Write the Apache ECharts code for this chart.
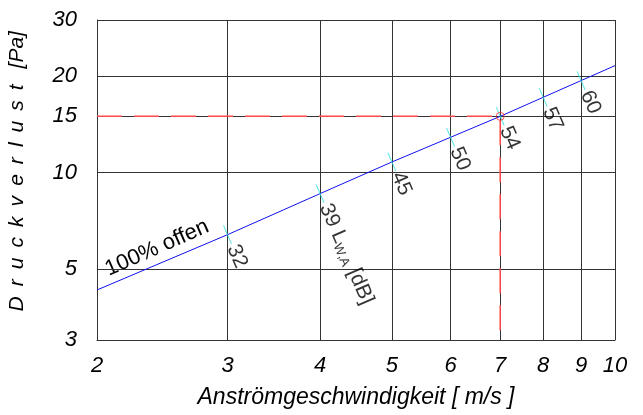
<!DOCTYPE html>
<html>
<head>
<meta charset="utf-8">
<script src="https://cdn.jsdelivr.net/npm/echarts@6/dist/echarts.min.js"></script>
<style>
  html, body { margin: 0; padding: 0; background: #fff; }
  #chart { width: 643px; height: 415px; }
</style>
</head>
<body>
<div id="chart"></div>
<script>
// air speed [m/s] and pressure loss [Pa], 100% open
var speeds = [2, 3, 4, 5, 6, 7, 8, 9, 10];
var pressures = [4.3, 6.4, 8.6, 10.8, 12.9, 15, 17.2, 19.4, 21.6];
// sound power level marks on the curve
var noiseSpeeds = [3, 4, 5, 6, 7, 8, 9];
var noisePressures = [6.4, 8.6, 10.8, 12.9, 15, 17.2, 19.4];
var noiseLevels = [32, 39, 45, 50, 54, 57, 60];
// axes
var xTicks = [2, 3, 4, 5, 6, 7, 8, 9, 10];
var yTicks = [3, 5, 10, 15, 20, 30];
// operating point
var refSpeed = 7, refPressure = 15;

var font = 'Liberation Sans, Arial, sans-serif';
var chart = echarts.init(document.getElementById('chart'));

var lineData = speeds.map(function (v, i) { return [v, pressures[i]]; });
var noiseData = noiseSpeeds.map(function (v, i) { return [v, noisePressures[i], noiseLevels[i]]; });

chart.setOption({
  animation: false,
  grid: { left: 97, top: 20, right: 28, bottom: 75, outerBoundsMode: 'none' },
  xAxis: {
    type: 'log',
    logBase: 10,
    min: xTicks[0],
    max: xTicks[xTicks.length - 1],
    name: 'Anströmgeschwindigkeit [ m/s ]',
    nameLocation: 'middle',
    nameGap: 46,
    nameTextStyle: { fontFamily: font, fontStyle: 'italic', fontSize: 23, color: '#000' },
    axisLine: { show: true, lineStyle: { color: '#333', width: 1 } },
    axisTick: { show: false, customValues: xTicks },
    axisLabel: { customValues: xTicks, margin: 15, fontFamily: font, fontStyle: 'italic', fontSize: 22, color: '#000' },
    splitLine: { show: true, lineStyle: { color: '#333', width: 1 } }
  },
  yAxis: {
    type: 'log',
    logBase: 10,
    min: yTicks[0],
    max: yTicks[yTicks.length - 1],
    name: '   D \u2009r \u2009u \u2009c \u2009k \u2009v \u2009e \u2009r \u2009l \u2009u \u2009s \u2009t \u2009 [Pa]',
    nameLocation: 'middle',
    nameGap: 69,
    nameRotate: 90,
    nameTextStyle: { fontFamily: font, fontStyle: 'italic', fontSize: 21, color: '#000' },
    axisLine: { show: true, lineStyle: { color: '#333', width: 1 } },
    axisTick: { show: false, customValues: yTicks },
    axisLabel: { customValues: yTicks, margin: 20, fontFamily: font, fontStyle: 'italic', fontSize: 22, color: '#000' },
    splitLine: { show: true, lineStyle: { color: '#333', width: 1 } }
  },
  series: [
    {
      name: 'reference',
      type: 'line',
      data: [[xTicks[0], refPressure], [refSpeed, refPressure], [refSpeed, yTicks[0]]],
      symbol: 'none',
      z: 3,
      lineStyle: { color: '#ff4a4a', width: 1.5, type: [25, 12] }
    },
    {
      name: '100% offen',
      type: 'line',
      data: lineData,
      symbol: 'none',
      z: 4,
      lineStyle: { color: '#1010f0', width: 1 }
    },
    {
      name: 'LwA',
      type: 'scatter',
      data: noiseData,
      symbol: 'rect',
      symbolSize: [1, 20],
      symbolRotate: 23.5,
      z: 5,
      itemStyle: { color: '#30e0e0' },
      label: {
        show: true,
        position: 'inside',
        rotate: -66.5,
        offset: [12, 0],
        align: 'left',
        verticalAlign: 'middle',
        fontFamily: font,
        fontSize: 21,
        color: '#000',
        formatter: function (p) {
          return p.dataIndex === 1 ? p.value[2] + ' L{s|W,A} [dB]' : String(p.value[2]);
        },
        rich: {
          s: { fontFamily: font, fontSize: 13, color: '#000', padding: [10, 0, 0, 0] }
        }
      }
    },
    {
      name: 'point',
      type: 'scatter',
      data: [[refSpeed, refPressure]],
      symbol: 'circle',
      symbolSize: 8,
      z: 6,
      itemStyle: { color: 'rgba(0,0,0,0)', borderColor: '#ff3030', borderWidth: 1 }
    }
  ],
  graphic: [
    {
      type: 'text',
      x: 157,
      y: 248,
      rotation: 23.9 * Math.PI / 180,
      style: {
        text: '100% offen',
        font: '22px ' + font,
        fill: '#000',
        align: 'center',
        verticalAlign: 'middle'
      }
    }
  ]
});
</script>
</body>
</html>
